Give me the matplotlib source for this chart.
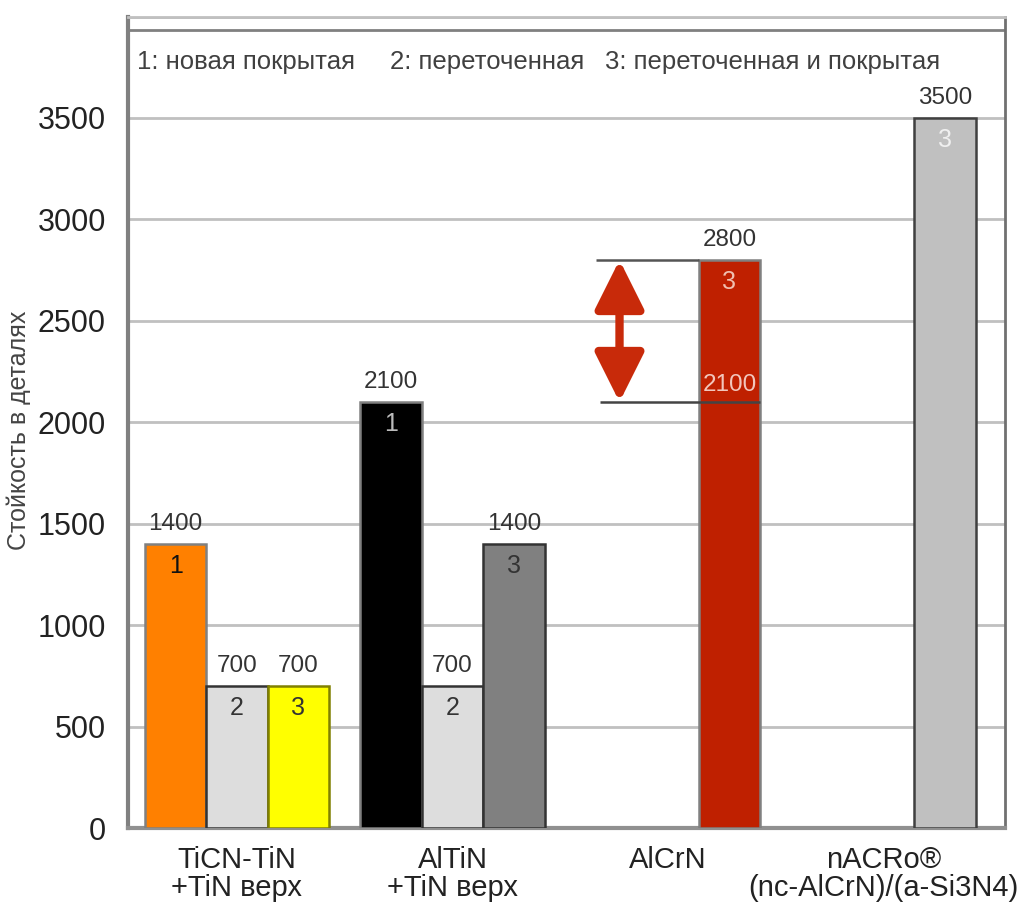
import matplotlib
matplotlib.use("Agg")
import matplotlib.pyplot as plt
import numpy as np

plt.rcParams['font.family'] = ['Liberation Sans', 'DejaVu Sans']

# DATA
categories = ["TiCN-TiN\n+TiN верх", "AlTiN\n+TiN верх", "AlCrN", "nACRo®\n(nc-AlCrN)/(a-Si3N4)"]
group_idx = [0, 0, 0, 1, 1, 1, 2, 3]
slot = [1, 2, 3, 1, 2, 3, 3, 3]          # 1: новая, 2: переточенная, 3: переточенная и покрытая
values = [1400, 700, 700, 2100, 700, 1400, 2800, 3500]
inside_labels = ["1", "2", "3", "1", "2", "3", "3", "3"]
legend_items = ["1: новая покрытая", "2: переточенная", "3: переточенная и покрытая"]
before_value = 2100   # AlCrN until regrind
ylabel = "Стойкость в деталях"

# STYLE
face = ["#FF8000", "#DDDDDD", "#FFFF00", "#000000", "#DDDDDD", "#808080", "#BF2000", "#C0C0C0"]
edge = ["#808080", "#333333", "#808000", "#808080", "#333333", "#333333", "#808080", "#404040"]
inside_col = ["#111111", "#333333", "#333333", "#BBBBBB", "#333333", "#333333", "#F0C0B0", "#F0F0F0"]
BAR_W = 0.285

fig = plt.figure(figsize=(10.22, 9.10), dpi=100)
ax = fig.add_axes([0.1252, 0.0901, 0.8582, 0.8917])

x = np.array(group_idx) + (np.array(slot) - 2) * BAR_W
ax.bar(x, values, width=BAR_W, color=face, edgecolor=edge, linewidth=1.8, zorder=3)

for xi, v, lab, c in zip(x, values, inside_labels, inside_col):
    ax.text(xi, v + 100, f"{v}", ha="center", va="center", fontsize=17.5, color="#333333", zorder=5)
    ax.text(xi, v - 110, lab, ha="center", va="center", fontsize=18, color=c, zorder=5)

# AlCrN improvement marker
red_x = x[6]
arrow_x = red_x - 0.51
ax.hlines(values[6], arrow_x - 0.11, red_x - BAR_W / 2, color="#555555", lw=1.8, zorder=4)
ax.hlines(before_value, arrow_x - 0.09, red_x + BAR_W / 2, color="#444444", lw=1.8, zorder=4)
ax.annotate("", xy=(arrow_x, before_value), xytext=(arrow_x, values[6]),
            arrowprops=dict(arrowstyle="<|-|>,head_length=1.5,head_width=0.75",
                            color="#C82A0A", lw=6, shrinkA=0, shrinkB=0, mutation_scale=20),
            zorder=6)
ax.text(red_x, before_value + 85, f"{before_value}", ha="center", va="center",
        fontsize=17.5, color="#F2C6BC", zorder=5)

# legend strip at the top
ax.axhline(3934, color="#808080", lw=2, zorder=2)
for tx, item in zip([-0.464, 0.71, 1.708], legend_items):
    ax.text(tx, 3776, item, ha="left", va="center", fontsize=18.5, color="#404040")

ax.set_xlim(-0.506, 3.564)
ax.set_ylim(0, 4000)
ax.set_yticks(np.arange(0, 4000, 500))
ax.set_xticks(range(len(categories)))
ax.set_xticklabels(categories, fontsize=21, linespacing=1.0, color="#222222")
ax.tick_params(axis="y", length=0, pad=16, labelsize=22, labelcolor="#222222")
ax.tick_params(axis="x", length=0, pad=13)
ax.grid(axis="y", color="#C0C0C0", lw=2, zorder=0)
ax.axhline(4000, color="#C0C0C0", lw=2)

ax.spines["left"].set_color("#808080")
ax.spines["left"].set_linewidth(3)
ax.spines["bottom"].set_color("#909090")
ax.spines["bottom"].set_linewidth(3)
ax.spines["right"].set_color("#707070")
ax.spines["right"].set_linewidth(2)
ax.spines["top"].set_color("#C0C0C0")
ax.spines["top"].set_linewidth(2)

ax.set_ylabel(ylabel, fontsize=18, color="#444444")
ax.yaxis.set_label_coords(-0.11, 0.49)

fig.savefig("out.png", dpi=100)
